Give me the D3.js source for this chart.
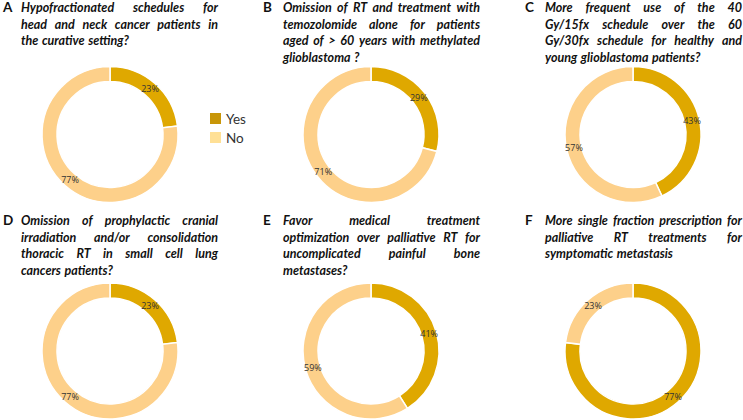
<!DOCTYPE html>
<html><head><meta charset="utf-8">
<script src="https://cdn.jsdelivr.net/npm/d3@7"></script>
<style>
html,body{margin:0;padding:0;background:#fff;}
svg{display:block;}
</style></head>
<body>
<svg id="chart" width="743" height="420"></svg>
<script>
// ---- data ----
const panelLetters = ["A","B","C","D","E","F"];
const answerCategories = ["Yes","No"];
const yesValues = [23, 29, 43, 23, 41, 77];
const noValues  = [77, 71, 57, 77, 59, 23];
const titleLines = [
  ["Hypofractionated schedules for", "head and neck cancer patients in", "the curative setting?"],
  ["Omission of RT and treatment with", "temozolomide alone for patients", "aged of > 60 years with methylated", "glioblastoma ?"],
  ["More frequent use of the 40", "Gy/15fx schedule over the 60", "Gy/30fx schedule for healthy and", "young glioblastoma patients?"],
  ["Omission of prophylactic cranial", "irradiation and/or consolidation", "thoracic RT in small cell lung", "cancers patients?"],
  ["Favor medical treatment", "optimization over palliative RT for", "uncomplicated painful bone", "metastases?"],
  ["More single fraction prescription for", "palliative RT treatments for", "symptomatic metastasis"]
];

// ---- layout ----
const svg = d3.select("#chart");
const colX = [110, 371, 633];
const rowY = [134.5, 351];
const letterX = [3, 263, 525];
const textX0 = [21, 283, 545];
const textX1 = [218, 480, 742];
const titleBase = [12, 225];
const lineH = 16.7;
const outerR = 68, innerR = 53;

const color = d3.scaleOrdinal().domain(answerCategories).range(["#DFA800", "#FDD08A"]);
const legendColor = d3.scaleOrdinal().domain(answerCategories).range(["#C89608", "#FFE096"]);

const pie = d3.pie().sort(null).value(d => d.value);
const arc = d3.arc().innerRadius(innerR).outerRadius(outerR);
const labelArc = d3.arc().innerRadius(innerR).outerRadius(outerR);

const titleFont = "Lato, 'Open Sans', sans-serif";

panelLetters.forEach((letter, i) => {
  const col = i % 3, row = Math.floor(i / 3);
  const g = svg.append("g");

  // panel letter
  g.append("text")
    .attr("x", letterX[col]).attr("y", titleBase[row])
    .attr("font-family", titleFont).attr("font-weight", "bold")
    .attr("font-size", 13.5).attr("fill", "#111")
    .text(letter);

  // justified title
  const lines = titleLines[i];
  lines.forEach((line, li) => {
    const y = titleBase[row] + li * lineH;
    const words = line.split(" ");
    const isLast = li === lines.length - 1;
    const tg = g.append("g");
    const texts = words.map(w => tg.append("text")
      .attr("y", y)
      .attr("font-family", titleFont).attr("font-weight", "bold").attr("font-style", "italic")
      .attr("font-size", 12.5).attr("fill", "#111")
      .text(w));
    const widths = texts.map(t => t.node().getComputedTextLength());
    const total = d3.sum(widths);
    const avail = textX1[col] - textX0[col];
    let gap;
    if (isLast || words.length < 2) {
      gap = 3.5;
    } else {
      gap = (avail - total) / (words.length - 1);
    }
    let x = textX0[col];
    texts.forEach((t, k) => { t.attr("x", x); x += widths[k] + gap; });
  });

  // donut
  const data = [
    {key: answerCategories[0], value: yesValues[i]},
    {key: answerCategories[1], value: noValues[i]}
  ];
  const dg = g.append("g").attr("transform", `translate(${colX[col]},${rowY[row]})`);
  const arcs = pie(data);
  dg.selectAll("path").data(arcs).join("path")
    .attr("d", arc)
    .attr("fill", d => color(d.data.key))
    .attr("stroke", "#fff").attr("stroke-width", 1.5);
  dg.selectAll("text").data(arcs).join("text")
    .attr("transform", d => `translate(${labelArc.centroid(d)})`)
    .attr("text-anchor", "middle").attr("dy", "0.35em")
    .attr("font-family", "'Open Sans', sans-serif").attr("font-size", 9)
    .attr("fill", "#333")
    .text(d => d.data.value + "%");
});

// legend
const lg = svg.append("g").attr("transform", "translate(210,113)");
answerCategories.forEach((c, k) => {
  lg.append("rect").attr("x", 0).attr("y", k * 19).attr("width", 11).attr("height", 11)
    .attr("fill", legendColor(c));
  lg.append("text").attr("x", 16).attr("y", k * 19 + 10.5)
    .attr("font-family", "Lato, sans-serif").attr("font-size", 13.5).attr("fill", "#333")
    .text(c);
});
</script>
</body></html>
